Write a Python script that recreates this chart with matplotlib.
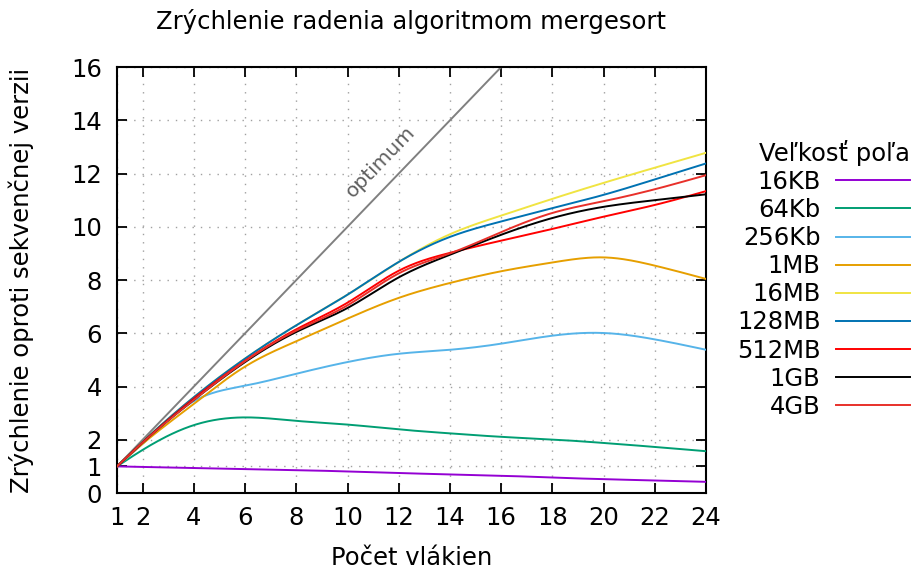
import numpy as np
import matplotlib
matplotlib.use('Agg')
import matplotlib.pyplot as plt

# pocet vlakien
threads = [1, 2, 4, 6, 8, 10, 12, 14, 16, 18, 20, 22, 24]

kb16 = [1.0, 0.98, 0.94, 0.90, 0.86, 0.81, 0.75, 0.70, 0.65, 0.58, 0.52, 0.47, 0.42]
kb64 = [1.0, 1.62, 2.55, 2.84, 2.71, 2.57, 2.39, 2.24, 2.11, 2.01, 1.88, 1.73, 1.57]
kb256 = [1.0, 1.85, 3.45, 4.03, 4.48, 4.92, 5.23, 5.38, 5.61, 5.91, 6.01, 5.77, 5.38]
mb1 = [1.0, 1.85, 3.35, 4.75, 5.70, 6.55, 7.33, 7.89, 8.33, 8.66, 8.85, 8.54, 8.04]
mb16 = [1.0, 1.92, 3.60, 5.05, 6.30, 7.45, 8.68, 9.72, 10.42, 11.05, 11.65, 12.22, 12.78]
mb128 = [1.0, 1.92, 3.60, 5.05, 6.30, 7.45, 8.68, 9.62, 10.20, 10.70, 11.20, 11.78, 12.38]
mb512 = [1.0, 1.90, 3.55, 4.97, 6.15, 7.15, 8.35, 9.02, 9.48, 9.92, 10.38, 10.82, 11.34]
gb1 = [1.0, 1.90, 3.50, 4.92, 6.05, 6.95, 8.10, 8.95, 9.70, 10.33, 10.75, 11.00, 11.22]
gb4 = [1.0, 1.90, 3.50, 4.95, 6.10, 7.05, 8.25, 9.00, 9.80, 10.52, 10.96, 11.41, 11.94]

labels = ['16KB', '64Kb', '256Kb', '1MB', '16MB', '128MB', '512MB', '1GB', '4GB']
series = [kb16, kb64, kb256, mb1, mb16, mb128, mb512, gb1, gb4]
colors = ['#9400d3', '#009e73', '#56b4e9', '#e69f00', '#f0e442', '#0072b2',
          '#ff0000', '#000000', '#e8302a']

xticks = [1, 2, 4, 6, 8, 10, 12, 14, 16, 18, 20, 22, 24]
yticks = [0, 1, 2, 4, 6, 8, 10, 12, 14, 16]


def csplines(x, y, n=300):
    # natural cubic spline, ako gnuplot "smooth csplines"
    x = np.asarray(x, float)
    y = np.asarray(y, float)
    h = np.diff(x)
    m = len(x)
    A = np.zeros((m, m))
    b = np.zeros(m)
    A[0, 0] = A[-1, -1] = 1.0
    for i in range(1, m - 1):
        A[i, i - 1] = h[i - 1]
        A[i, i] = 2 * (h[i - 1] + h[i])
        A[i, i + 1] = h[i]
        b[i] = 6 * ((y[i + 1] - y[i]) / h[i] - (y[i] - y[i - 1]) / h[i - 1])
    M = np.linalg.solve(A, b)
    xs = np.linspace(x[0], x[-1], n)
    k = np.clip(np.searchsorted(x, xs) - 1, 0, m - 2)
    t0 = x[k + 1] - xs
    t1 = xs - x[k]
    hk = h[k]
    ys = (M[k] * t0 ** 3 + M[k + 1] * t1 ** 3) / (6 * hk) \
        + (y[k] / hk - M[k] * hk / 6) * t0 + (y[k + 1] / hk - M[k + 1] * hk / 6) * t1
    return xs, ys


FS = 17.5
plt.rcParams['font.family'] = ['DejaVu Sans']
fig = plt.figure(figsize=(9.23, 5.73), dpi=100)
ax = fig.add_axes([0.1268, 0.1396, 0.6382, 0.7434])

ax.plot([1, 16], [1, 16], color='#808080', lw=1.4, zorder=2)
ax.text(11.3, 12.45, 'optimum', rotation=46, color='#606060', fontsize=14.5,
        ha='center', va='center')

for s, lab, c in zip(series, labels, colors):
    xs, ys = csplines(threads, s)
    ax.plot(xs, ys, color=c, lw=1.4, label=lab, zorder=3)

ax.set_xlim(1, 24)
ax.set_ylim(0, 16)
ax.set_xticks(xticks)
ax.set_yticks(yticks)
ax.tick_params(direction='in', length=7, width=1.3, labelsize=FS, top=True, right=True,
               labeltop=False, labelright=False)
ax.tick_params(axis='x', pad=9)
ax.tick_params(axis='y', pad=11)
ax.grid(True, color='#a0a0a0', lw=1.0, linestyle=(0, (1, 5)))
for sp in ax.spines.values():
    sp.set_linewidth(1.5)

fig.text(0.4458, 1 - 22 / 573, 'Zrýchlenie radenia algoritmom mergesort', fontsize=FS,
         ha='center', va='center')
ax.set_xlabel('Počet vlákien', fontsize=FS)
ax.set_ylabel('Zrýchlenie oproti sekvenčnej verzii', fontsize=FS)
ax.xaxis.set_label_coords(0.5, -0.152)
ax.yaxis.set_label_coords(-0.163, 0.5)
ax.xaxis.label.set_va('center')
ax.yaxis.label.set_va('center')

leg = fig.legend(loc='upper right', bbox_to_anchor=(1.004, 0.786), frameon=False,
                 markerfirst=False, fontsize=FS, title='Veľkosť poľa', title_fontsize=FS,
                 alignment='right', handlelength=3.05, handletextpad=0.62,
                 labelspacing=0.17, borderpad=0.2)

fig.savefig('out.png', dpi=100)
